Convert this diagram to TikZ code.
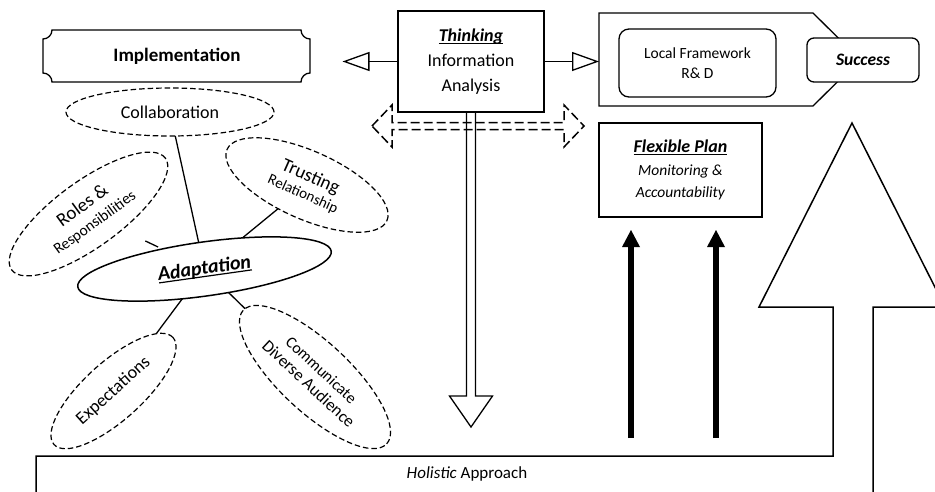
\documentclass[tikz,border=0pt]{standalone}
\usepackage{fontspec}
\setmainfont{Carlito}
\usetikzlibrary{shapes.geometric,arrows.meta,calc}
% underline drawn a little under the baseline
\newcommand\ulword[1]{\setbox0=\hbox{#1}\rlap{\raisebox{-2.6pt}{\rule{\wd0}{1.2pt}}}\box0}
\begin{document}
\begin{tikzpicture}[x=1pt,y=-1pt,
  every node/.style={inner sep=0pt,outer sep=0pt},
  ln/.style={line width=1.3pt},
  thick line/.style={line width=1.5pt},
  dashoval/.style={ellipse,draw,line width=1.2pt,dash pattern=on 5.5pt off 3pt,align=center},
  plainbox/.style={draw,line width=1.3pt,align=center},
  openhead/.style={-{Triangle[open,length=27pt,width=19pt]}},
  bigup/.style={line width=6pt,-{Triangle[line width=0pt,length=17pt,width=18pt]}},
  fA/.style={font=\fontsize{18}{25}\selectfont}]
\useasboundingbox (0,0) rectangle (935,491);
\fill[white] (0,0) rectangle (935,491);
\clip (0,0) rectangle (935,491);

% Implementation plaque with concave corners
\draw[ln] (52,30) -- (301,30) arc[start angle=180,end angle=90,radius=9]
  -- (310,73) arc[start angle=270,end angle=180,radius=9]
  -- (52,82) arc[start angle=0,end angle=-90,radius=9]
  -- (43,39) arc[start angle=90,end angle=0,radius=9] -- cycle;
\node[minimum width=267,minimum height=52,font=\fontsize{19}{23}\selectfont\bfseries] (impl) at (177,56) {Implementation};

% Thinking box
\node[plainbox,minimum width=146,minimum height=101,fA] (think) at (471,61.5)
  {\ulword{\textbf{\textit{Thinking}}}\\Information\\Analysis};

% tag shape holding the framework and success boxes
\draw[ln] (599,13) -- (813,13) -- (860,59.5) -- (813,106) -- (599,106) -- cycle;
\coordinate (tagw) at (599,61);
\node[plainbox,rounded corners=10pt,minimum width=157,minimum height=68,
  font=\fontsize{15.5}{20}\selectfont] (local) at (697.5,63) {Local Framework\\R\& D};
\node[plainbox,fill=white,rounded corners=7pt,minimum width=112,minimum height=44,
  font=\fontsize{17.5}{20}\selectfont] (success) at (863,60) {\textbf{\textit{Success}}};

% arrows out of the thinking box
\draw[ln,openhead,shorten >=32pt] (think.west) -- (think.west -| impl.east);
\draw[ln,openhead] (think.east) -- (think.east -| tagw);

% hollow arrow down to the holistic approach
\draw[ln] ($(think.south)+(-4.5,0)$) -- ++(0,284) -- ++(-17,0)
  -- ($(think.south)+(0,315)$) -- ($(think.south)+(21.5,284)$) -- ++(-17,0)
  -- ($(think.south)+(4.5,0)$);

% dashed two-way arrow under the thinking box
\coordinate (dd) at (478,126);
\draw[line width=1.5pt,dash pattern=on 9pt off 4pt]
  ($(dd)+(-106,0)$) -- ++(20,-21) -- ++(0,17.5) -- ++(172,0) -- ++(0,-17.5)
  -- ++(20,21) -- ++(-20,21) -- ++(0,-17.5) -- ++(-172,0) -- ++(0,17.5) -- cycle;

% flexible plan
\node[plainbox,minimum width=163,minimum height=94,font=\fontsize{15.5}{22.5}\selectfont] (flex) at (680.5,170)
  {{\fontsize{18}{22.5}\selectfont\ulword{\textbf{\textit{Flexible Plan}}}}\\
   \textit{Monitoring \&}\\\textit{Accountability}};

% holistic approach base with the large upward arrow
\draw[thick line] (36,500) -- (36,456) -- (833,456) -- (833,307) -- (759,307)
  -- (852,123) -- (945,307) -- (873,307) -- (873,500);
\node[font=\fontsize{17}{20}\selectfont] (holistic) at (467,474) {\textit{Holistic} Approach};

% two solid arrows up to the flexible plan
\coordinate (h1) at (631,438);
\coordinate (h2) at (716,438);
\draw[bigup,shorten >=13pt] (h1) -- (h1 |- flex.south);
\draw[bigup,shorten >=13pt] (h2) -- (h2 |- flex.south);

% adaptation cluster
\node[ellipse,draw,line width=1.5pt,minimum width=256,minimum height=54,rotate=8,
  font=\fontsize{20}{24}\selectfont] (adapt) at (204.5,269)
  {\ulword{\textbf{\textit{Adaptation}}}};
\node[dashoval,minimum width=208,minimum height=48,font=\fontsize{18}{22}\selectfont] (collab) at (170,112) {Collaboration};
\node[dashoval,minimum width=190,minimum height=66,rotate=36,font=\fontsize{19}{20}\selectfont] (roles) at (88.5,214)
  {Roles \&\\{\fontsize{15.5}{20}\selectfont Responsibilities}};
\node[dashoval,minimum width=175,minimum height=68,rotate=-24,font=\fontsize{19}{18}\selectfont] (trust) at (307,185)
  {Trusting\\{\fontsize{15}{18}\selectfont Relationship}};
\node[dashoval,minimum width=160,minimum height=58,rotate=42,font=\fontsize{18}{22}\selectfont] (expect) at (113.5,391) {Expectations};
\node[dashoval,minimum width=196,minimum height=70,rotate=-43,font=\fontsize{16}{19}\selectfont] (comm) at (315,377)
  {Communicate\\{\fontsize{17}{19}\selectfont Diverse Audience}};

% connectors of the cluster
\draw[ln] (collab) -- (adapt);
\draw[ln] (trust) -- (adapt);
\draw[ln] (adapt) -- (expect);
\draw[ln] (adapt) -- (comm);
\draw[ln] ($(adapt)!0.40!(roles)$) -- ($(adapt)!0.51!(roles)$);
\end{tikzpicture}
\end{document}
